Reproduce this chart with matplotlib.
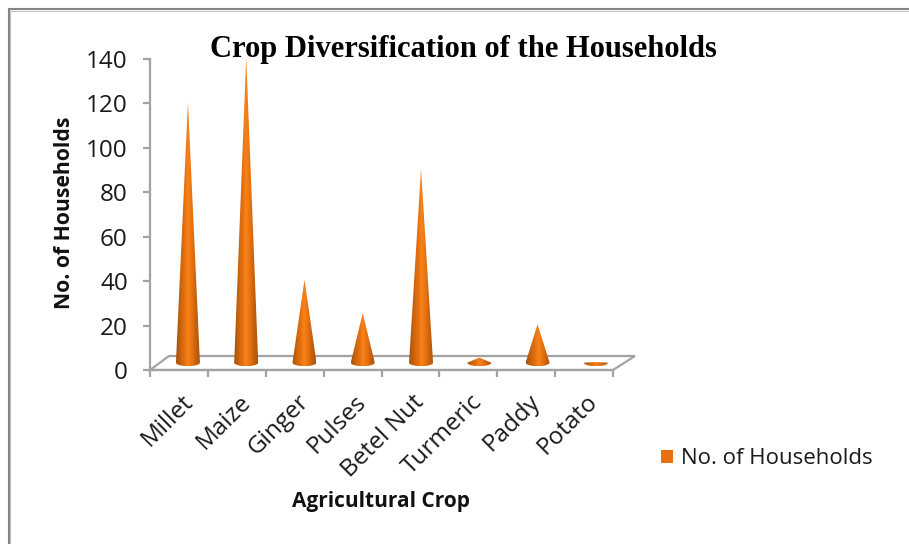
import numpy as np
import matplotlib
matplotlib.use("Agg")
import matplotlib.pyplot as plt
from matplotlib.colors import LinearSegmentedColormap
from matplotlib.patches import Polygon, Patch, Rectangle

categories = ["Millet", "Maize", "Ginger", "Pulses", "Betel Nut", "Turmeric", "Paddy", "Potato"]
households = [120, 140, 40, 25, 90, 5, 20, 3]
y_ticks = [0, 20, 40, 60, 80, 100, 120, 140]

W, H = 909, 544
plt.rcParams["font.family"] = ["Open Sans", "DejaVu Sans"]
fig = plt.figure(figsize=(W / 100, H / 100), dpi=100, facecolor="white")
L, R, T, B = 150, 613, 59, 370
ax = fig.add_axes([L / W, 1 - B / H, (R - L) / W, (B - T) / H])
n = len(categories)
ax.set_xlim(0, n)
ax.set_ylim(0, 140)
ax.patch.set_visible(False)

px_x = n / (R - L)
px_y = 140 / (B - T)
grey = "#a3a3a3"

# floor of the 3-D chart
dy = 14 * px_y
ax.add_patch(Polygon([(0, 0), (n, 0), (n + 22 * px_x, dy), (19 * px_x, dy)], closed=True,
                     fill=False, edgecolor=grey, lw=1.6, clip_on=False, zorder=1))

# cones
cmap = LinearSegmentedColormap.from_list(
    "cone", ["#a4500c", "#c8620d", "#e06e0f", "#f9821a", "#e8720f", "#c6610d", "#ab540c"])
grad = np.linspace(0, 1, 64).reshape(1, -1)
hw = 12 * px_x
ry = 3.5 * px_y
base = 3.3
rise = 0.6
t = np.linspace(np.pi, 2 * np.pi, 40)
for i, v in enumerate(households):
    cx = i + 0.5 + (9 + 0.4 * i) * px_x
    apex = v + rise
    verts = [(cx, apex)] + [(cx + hw * np.cos(a), base + ry * np.sin(a)) for a in t]
    poly = Polygon(verts, closed=True, transform=ax.transData, facecolor="none", edgecolor="none",
                   clip_on=False)
    ax.add_patch(poly)
    im = ax.imshow(grad, cmap=cmap, aspect="auto", zorder=3,
                   extent=(cx - hw, cx + hw, base - ry, apex))
    im.set_clip_path(poly)
ax.set_xlim(0, n)
ax.set_ylim(0, 140)

# axes
for s in ["top", "right"]:
    ax.spines[s].set_visible(False)
for s in ["left", "bottom"]:
    ax.spines[s].set_color(grey)
    ax.spines[s].set_linewidth(1.6)
ax.set_yticks(y_ticks)
ax.set_xticks(np.arange(n + 1))
ax.set_xticklabels([""] * (n + 1))
ax.tick_params(axis="both", color=grey, width=1.6, length=5)
ax.tick_params(axis="y", labelsize=17.5, labelcolor="#1a1a1a", pad=11)
for i, c in enumerate(categories):
    ax.annotate(c, xy=(i + 0.5, 0), xytext=(2, -20), textcoords="offset pixels",
                rotation=45, ha="right", va="top", rotation_mode="anchor",
                fontsize=17.5, color="#1a1a1a", annotation_clip=False)

fig.text(65 / W, 1 - 213 / H, "No. of Households", rotation=90, ha="center", va="center",
         fontsize=15.2, fontweight="bold", color="#111111")
fig.text(381 / W, 1 - 501 / H, "Agricultural Crop", ha="center", va="center",
         fontsize=15, fontweight="bold", color="#111111")
fig.text(463.5 / W, 1 - 49 / H, "Crop Diversification of the Households", ha="center", va="center",
         fontsize=22, fontweight="bold", family="Liberation Serif", color="black")

fig.legend(handles=[Patch(facecolor="#e8700f", label="No. of Households")],
           loc="center left", bbox_to_anchor=(661 / W, 1 - 459 / H), frameon=False,
           fontsize=16, handlelength=0.54, handleheight=0.54, handletextpad=0.36,
           borderpad=0, borderaxespad=0, labelcolor="#1a1a1a")

# outer frame
fig.add_artist(Rectangle((10.2 / W, -0.1), 1.2, 1 - 10.8 / H + 0.1, transform=fig.transFigure,
                         fill=False, edgecolor="#c4c4c4", lw=0.8))
fig.add_artist(Rectangle((8.5 / W, -0.1), 1.2, 1 - 9.2 / H + 0.1, transform=fig.transFigure,
                         fill=False, edgecolor="#858585", lw=1.5))
fig.savefig("out.png", dpi=100)
